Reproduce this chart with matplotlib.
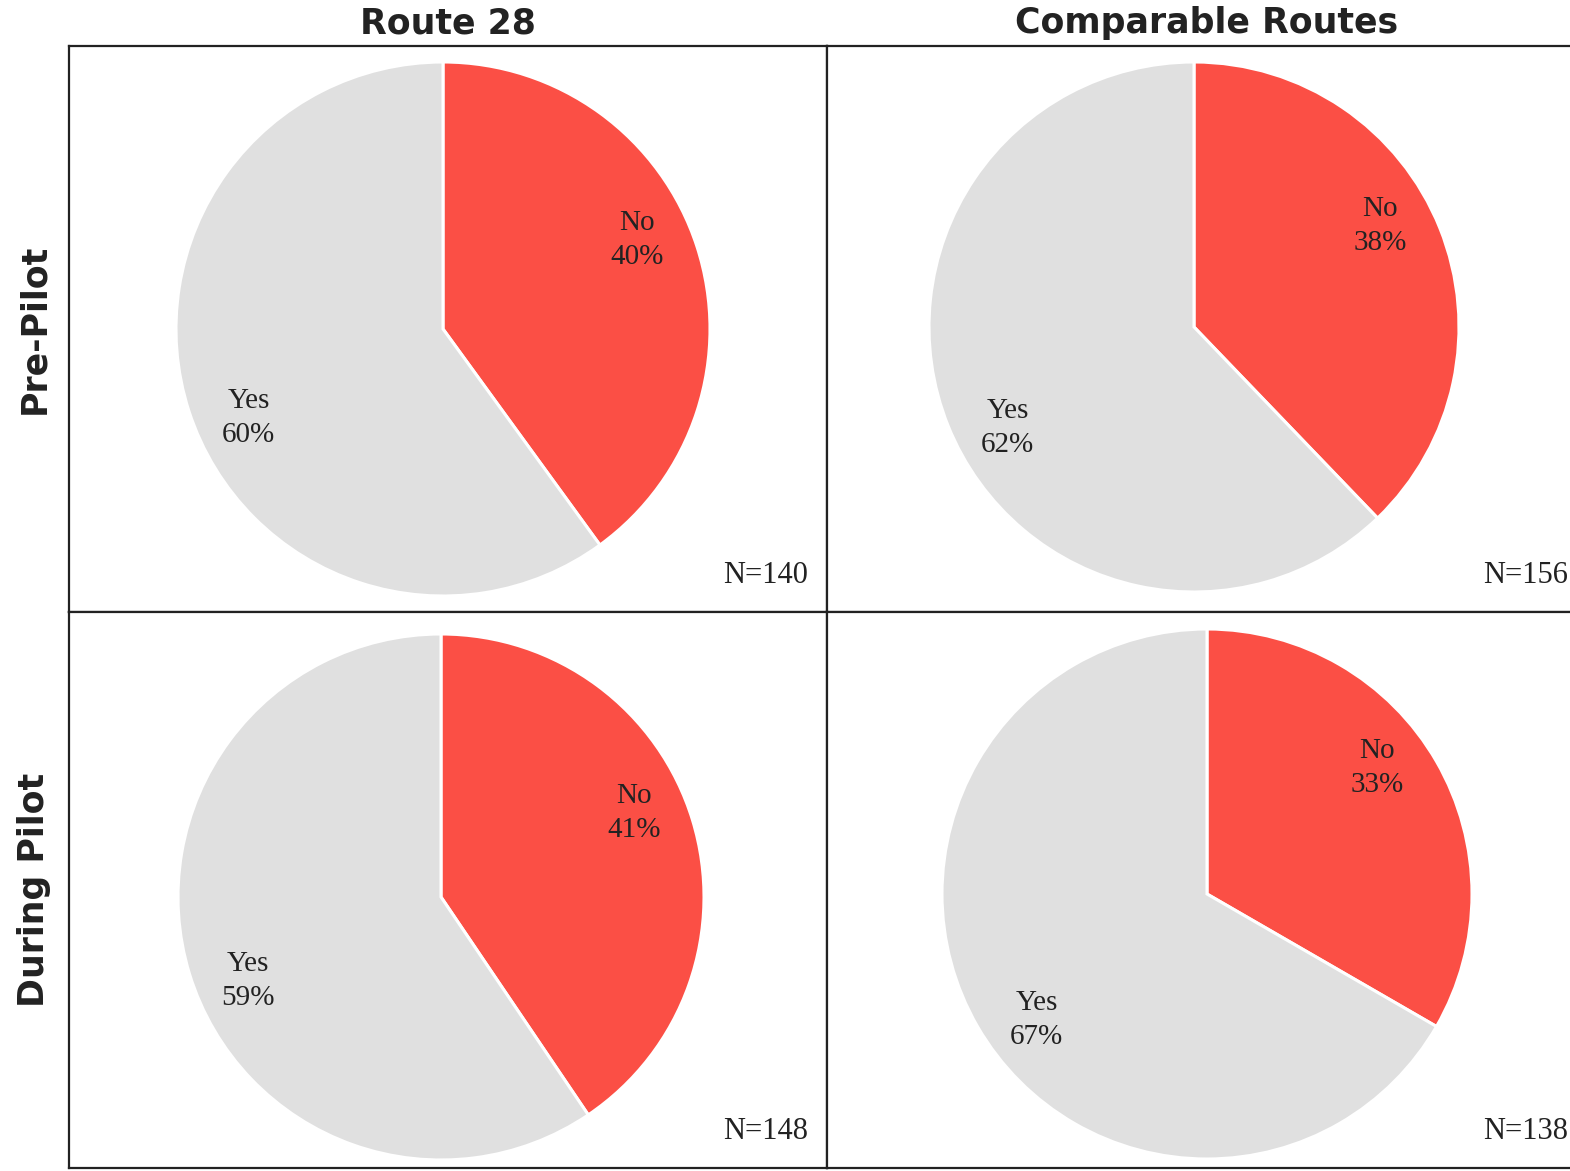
import matplotlib
matplotlib.use('Agg')
import matplotlib.pyplot as plt
import numpy as np

# Data: counts of "No" / "Yes" answers per panel
columns = ['Route 28', 'Comparable Routes']
rows = ['Pre-Pilot', 'During Pilot']
answers = ['No', 'Yes']
no_counts = [[56, 59], [60, 46]]
yes_counts = [[84, 97], [88, 92]]

RED = '#FB4F45'
GRAY = '#E0E0E0'
DARK = '#222222'

W, H = 1570, 1171
fig = plt.figure(figsize=(W / 100, H / 100), dpi=100)

# axes boxes in pixels: (left, top, width, height)
col_x = [69, 827]
col_w = [758, 760]
row_y = [46, 612]
row_h = [566, 556]

# pie centre (from axes left/top) and radius, pixels
pie_layout = [[(374, 283, 267), (367, 281, 265)],
              [(372, 285, 263), (380, 282, 265)]]

title_font = dict(family='DejaVu Sans', fontweight='bold', fontsize=25, color=DARK)
label_font = dict(family='Liberation Serif', fontsize=21, color=DARK)

for r in range(2):
    for c in range(2):
        x0, y0, w, h = col_x[c], row_y[r], col_w[c], row_h[r]
        ax = fig.add_axes([x0 / W, 1 - (y0 + h) / H, w / W, h / H])

        cx, cy, rad = pie_layout[r][c]
        cy = h - cy
        vals = [no_counts[r][c], yes_counts[r][c]]
        total = sum(vals)
        wedges, _ = ax.pie(vals, colors=[RED, GRAY], startangle=90, counterclock=False,
                           center=(cx, cy), radius=rad, frame=True,
                           wedgeprops=dict(edgecolor='white', linewidth=2.2))

        # labels a bit inside the rim, turned slightly anticlockwise
        for wdg, name, v in zip(wedges, answers, vals):
            ang = np.deg2rad((wdg.theta1 + wdg.theta2) / 2 + 6.5)
            ax.text(cx + 0.8 * rad * np.cos(ang), cy + 0.8 * rad * np.sin(ang),
                    f'{name}\n{100 * v / total:.0f}%', ha='center', va='center',
                    linespacing=1.4, **label_font)

        ax.set_xlim(0, w)
        ax.set_ylim(0, h)
        ax.set_aspect('auto')
        ax.set_xticks([])
        ax.set_yticks([])
        for s in ax.spines.values():
            s.set_linewidth(1.6)
            s.set_color(DARK)

        ax.text(w - 19, 22, f'N={total}', ha='right', va='bottom',
                family='Liberation Serif', fontsize=22, color=DARK)

        if r == 0:
            ax.set_title(columns[c], pad=9, **title_font)
        if c == 0:
            ax.set_ylabel(rows[r], labelpad=13, **title_font)

fig.savefig('out.png', dpi=100)
